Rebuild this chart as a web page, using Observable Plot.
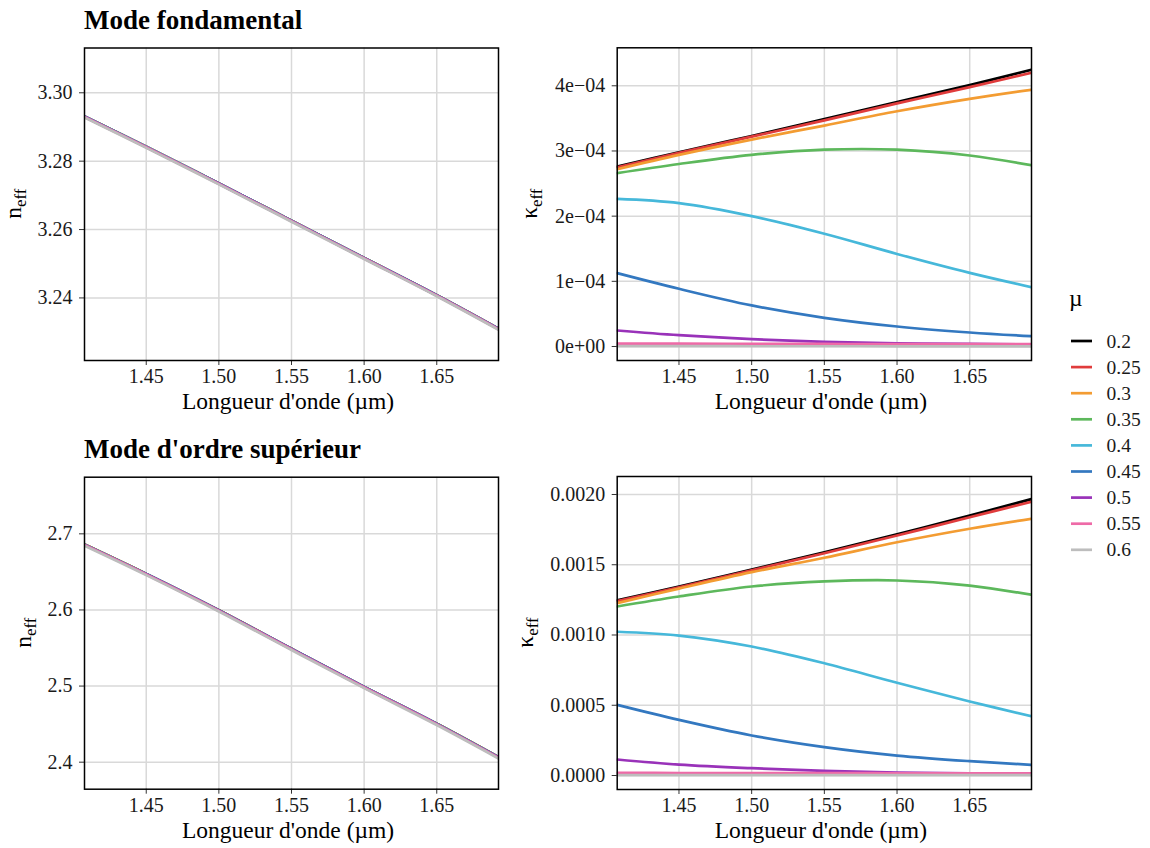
<!DOCTYPE html>
<html>
<head>
<meta charset="utf-8">
<script src="https://cdn.jsdelivr.net/npm/d3@7"></script>
<script src="https://cdn.jsdelivr.net/npm/@observablehq/plot@0.6"></script>
<style>
  html, body { margin: 0; padding: 0; background: #ffffff; }
  #root { position: relative; width: 1150px; height: 848px; background: #ffffff; font-family: "Liberation Serif", "Times New Roman", serif; overflow: hidden; }
  #root svg { position: absolute; overflow: visible; }
</style>
</head>
<body>
<div id="root"></div>
<script>
// ---------------- data ----------------
const lambda = [1.4075, 1.45, 1.50, 1.55, 1.60, 1.65, 1.6925];
const xTicks = [1.45, 1.50, 1.55, 1.60, 1.65];
const mu = ["0.2", "0.25", "0.3", "0.35", "0.4", "0.45", "0.5", "0.55", "0.6"];
const muColors = ["#000000", "#E03C3C", "#F39C32", "#5DB85C", "#46B8DA", "#3378C0", "#9932B9", "#EE6AA7", "#BDBDBD"];

// Mode fondamental : n_eff
const nFund = [
  [3.29310, 3.28420, 3.27350, 3.26260, 3.25170, 3.24080, 3.23100],
  [3.29310, 3.28420, 3.27350, 3.26260, 3.25170, 3.24080, 3.23100],
  [3.29310, 3.28420, 3.27350, 3.26260, 3.25170, 3.24080, 3.23100],
  [3.29310, 3.28420, 3.27350, 3.26260, 3.25170, 3.24080, 3.23100],
  [3.29310, 3.28420, 3.27350, 3.26260, 3.25170, 3.24080, 3.23100],
  [3.29305, 3.28415, 3.27345, 3.26255, 3.25165, 3.24075, 3.23095],
  [3.29300, 3.28410, 3.27340, 3.26250, 3.25160, 3.24070, 3.23090],
  [3.29295, 3.28405, 3.27335, 3.26245, 3.25155, 3.24065, 3.23085],
  [3.29280, 3.28390, 3.27320, 3.26230, 3.25140, 3.24050, 3.23070]
];
// Mode fondamental : kappa_eff
const kFund = [
  [2.760e-4, 2.980e-4, 3.230e-4, 3.490e-4, 3.750e-4, 4.010e-4, 4.245e-4],
  [2.750e-4, 2.970e-4, 3.220e-4, 3.470e-4, 3.730e-4, 3.980e-4, 4.200e-4],
  [2.720e-4, 2.940e-4, 3.175e-4, 3.390e-4, 3.610e-4, 3.800e-4, 3.940e-4],
  [2.660e-4, 2.800e-4, 2.940e-4, 3.020e-4, 3.020e-4, 2.930e-4, 2.780e-4],
  [2.265e-4, 2.200e-4, 2.000e-4, 1.730e-4, 1.420e-4, 1.130e-4, 0.910e-4],
  [1.125e-4, 0.885e-4, 0.630e-4, 0.440e-4, 0.307e-4, 0.215e-4, 0.158e-4],
  [0.245e-4, 0.173e-4, 0.112e-4, 0.072e-4, 0.050e-4, 0.041e-4, 0.030e-4],
  [0.045e-4, 0.043e-4, 0.041e-4, 0.039e-4, 0.037e-4, 0.036e-4, 0.035e-4],
  [0.005e-4, 0.005e-4, 0.004e-4, 0.004e-4, 0.003e-4, 0.003e-4, 0.003e-4]
];
// Mode d'ordre supérieur : n_eff
const nHigh = [
  [2.6860, 2.6474, 2.5996, 2.5490, 2.4990, 2.4505, 2.4066],
  [2.6860, 2.6474, 2.5996, 2.5490, 2.4990, 2.4505, 2.4066],
  [2.6859, 2.6473, 2.5995, 2.5489, 2.4989, 2.4504, 2.4065],
  [2.6859, 2.6473, 2.5995, 2.5489, 2.4989, 2.4504, 2.4065],
  [2.6858, 2.6472, 2.5994, 2.5488, 2.4988, 2.4503, 2.4064],
  [2.6858, 2.6472, 2.5994, 2.5488, 2.4988, 2.4503, 2.4064],
  [2.6855, 2.6469, 2.5991, 2.5485, 2.4985, 2.4500, 2.4061],
  [2.6852, 2.6466, 2.5988, 2.5482, 2.4982, 2.4497, 2.4058],
  [2.6843, 2.6457, 2.5979, 2.5473, 2.4973, 2.4488, 2.4049]
];
// Mode d'ordre supérieur : kappa_eff
const kHigh = [
  [12.46e-4, 13.45e-4, 14.65e-4, 15.88e-4, 17.17e-4, 18.50e-4, 19.67e-4],
  [12.41e-4, 13.40e-4, 14.60e-4, 15.82e-4, 17.08e-4, 18.38e-4, 19.48e-4],
  [12.27e-4, 13.30e-4, 14.47e-4, 15.50e-4, 16.60e-4, 17.56e-4, 18.27e-4],
  [12.03e-4, 12.74e-4, 13.45e-4, 13.81e-4, 13.88e-4, 13.52e-4, 12.86e-4],
  [10.23e-4, 9.96e-4, 9.18e-4, 7.99e-4, 6.60e-4, 5.27e-4, 4.22e-4],
  [5.03e-4, 3.96e-4, 2.85e-4, 2.02e-4, 1.42e-4, 1.02e-4, 0.76e-4],
  [1.14e-4, 0.78e-4, 0.52e-4, 0.33e-4, 0.21e-4, 0.16e-4, 0.14e-4],
  [0.19e-4, 0.18e-4, 0.17e-4, 0.17e-4, 0.16e-4, 0.15e-4, 0.15e-4],
  [0.02e-4, 0.02e-4, 0.02e-4, 0.02e-4, 0.02e-4, 0.02e-4, 0.02e-4]
];

const yTicksNFund = [3.24, 3.26, 3.28, 3.30];
const yTicksKFund = [0, 1e-4, 2e-4, 3e-4, 4e-4];
const yTicksNHigh = [2.4, 2.5, 2.6, 2.7];
const yTicksKHigh = [0, 0.0005, 0.0010, 0.0015, 0.0020];

// ---------------- helpers ----------------
const toRows = (values) => mu.flatMap((m, i) => lambda.map((l, j) => ({mu: m, lambda: l, value: values[i][j]})));
const sciFormat = (d) => {
  const [m, e] = d.toExponential(0).split("e");
  const sign = e[0] === "-" ? "\u2212" : "+";
  return m + "e" + sign + String(Math.abs(+e)).padStart(2, "0");
};

const FONT = "Liberation Serif, Times New Roman, serif";
const TICK_FS = 20;
const TITLE_FS = 23.5;
const root = document.getElementById("root");

function panel(cfg) {
  const {values, yDomain, yTicks, yFormat, left, top, width, height, m, yLabel, yLabelX, title} = cfg;
  const svg = Plot.plot({
    width, height,
    marginLeft: m[3], marginRight: m[1], marginTop: m[0], marginBottom: m[2],
    style: {fontFamily: FONT, fontSize: TICK_FS + "px", color: "#1a1a1a", background: "transparent", overflow: "visible"},
    x: {domain: [1.4075, 1.6925]},
    y: {domain: yDomain},
    color: {domain: mu, range: muColors},
    marks: [
      Plot.gridX(xTicks, {stroke: "#d9d9d9", strokeOpacity: 1, strokeWidth: 1.5}),
      Plot.gridY(yTicks, {stroke: "#d9d9d9", strokeOpacity: 1, strokeWidth: 1.5}),
      Plot.line(toRows(values), {x: "lambda", y: "value", z: "mu", stroke: "mu", strokeWidth: 2.7, curve: "catmull-rom", clip: true}),
      Plot.axisX(xTicks, {tickFormat: d3.format(".2f"), tickSize: 5, tickPadding: 3.5, label: null, fontSize: TICK_FS, stroke: "#333"}),
      Plot.axisY(yTicks, {tickFormat: yFormat, tickSize: 5, tickPadding: 7, label: null, fontSize: TICK_FS, stroke: "#333"}),
      Plot.frame({stroke: "#000", strokeWidth: 1.5})
    ]
  });
  svg.style.left = left + "px";
  svg.style.top = top + "px";
  const s = d3.select(svg);
  const fx0 = m[3], fx1 = width - m[1], fy0 = m[0], fy1 = height - m[2];
  // x axis title
  s.append("text")
    .attr("x", (fx0 + fx1) / 2 - 3)
    .attr("y", fy1 + 49.3)
    .attr("text-anchor", "middle")
    .attr("font-size", TITLE_FS)
    .attr("fill", "#000")
    .text("Longueur d'onde (\u00b5m)");
  // y axis title with subscript
  const t = s.append("text")
    .attr("transform", `translate(${yLabelX},${(fy0 + fy1) / 2}) rotate(-90)`)
    .attr("text-anchor", "middle")
    .attr("font-size", TITLE_FS)
    .attr("fill", "#000");
  t.append("tspan").text(yLabel);
  t.append("tspan").attr("dy", "0.3em").attr("font-size", TITLE_FS * 0.72).text("eff");
  if (title) {
    s.append("text")
      .attr("x", fx0)
      .attr("y", title.y)
      .attr("text-anchor", "start")
      .attr("font-size", 27)
      .attr("font-weight", "bold")
      .attr("fill", "#000")
      .text(title.text);
  }
  root.appendChild(svg);
}

panel({values: nFund, yDomain: [3.2217, 3.3131], yTicks: yTicksNFund, yFormat: d3.format(".2f"),
  left: 0, top: 0, width: 520, height: 420, m: [47.5, 22, 60, 84], yLabel: "n", yLabelX: 20.7,
  title: {text: "Mode fondamental", y: 29}});
panel({values: kFund, yDomain: [-2.15e-5, 4.583e-4], yTicks: yTicksKFund, yFormat: sciFormat,
  left: 520, top: 0, width: 520, height: 420, m: [47.3, 9, 60, 96.7], yLabel: "\u03ba", yLabelX: 16.7});
panel({values: nHigh, yDomain: [2.3645, 2.7744], yTicks: yTicksNHigh, yFormat: d3.format(".1f"),
  left: 0, top: 420, width: 520, height: 428, m: [56.7, 22, 59.3, 84], yLabel: "n", yLabelX: 31,
  title: {text: "Mode d'ordre sup\u00e9rieur", y: 38.3}});
panel({values: kHigh, yDomain: [-0.0000996, 0.002128], yTicks: yTicksKHigh, yFormat: d3.format(".4f"),
  left: 520, top: 420, width: 520, height: 428, m: [56, 9, 59, 96.7], yLabel: "\u03ba", yLabelX: 13});

// ---------------- legend ----------------
const leg = d3.select(root).append("svg")
  .attr("width", 110).attr("height", 290)
  .style("left", "1040px").style("top", "280px")
  .style("font-family", FONT);
leg.append("text").attr("x", 29).attr("y", 26).attr("font-size", 23.5).attr("fill", "#000").text("\u00b5");
const items = leg.selectAll("g.item").data(mu).join("g")
  .attr("class", "item")
  .attr("transform", (d, i) => `translate(0,${61 + i * 26.1})`);
items.append("line").attr("x1", 31).attr("x2", 52).attr("y1", 0).attr("y2", 0)
  .attr("stroke", (d, i) => muColors[i]).attr("stroke-width", 2.7);
items.append("text").attr("x", 66.5).attr("y", 0).attr("dy", "0.34em")
  .attr("font-size", 19.5).attr("fill", "#1a1a1a").text(d => d);
</script>
</body>
</html>
